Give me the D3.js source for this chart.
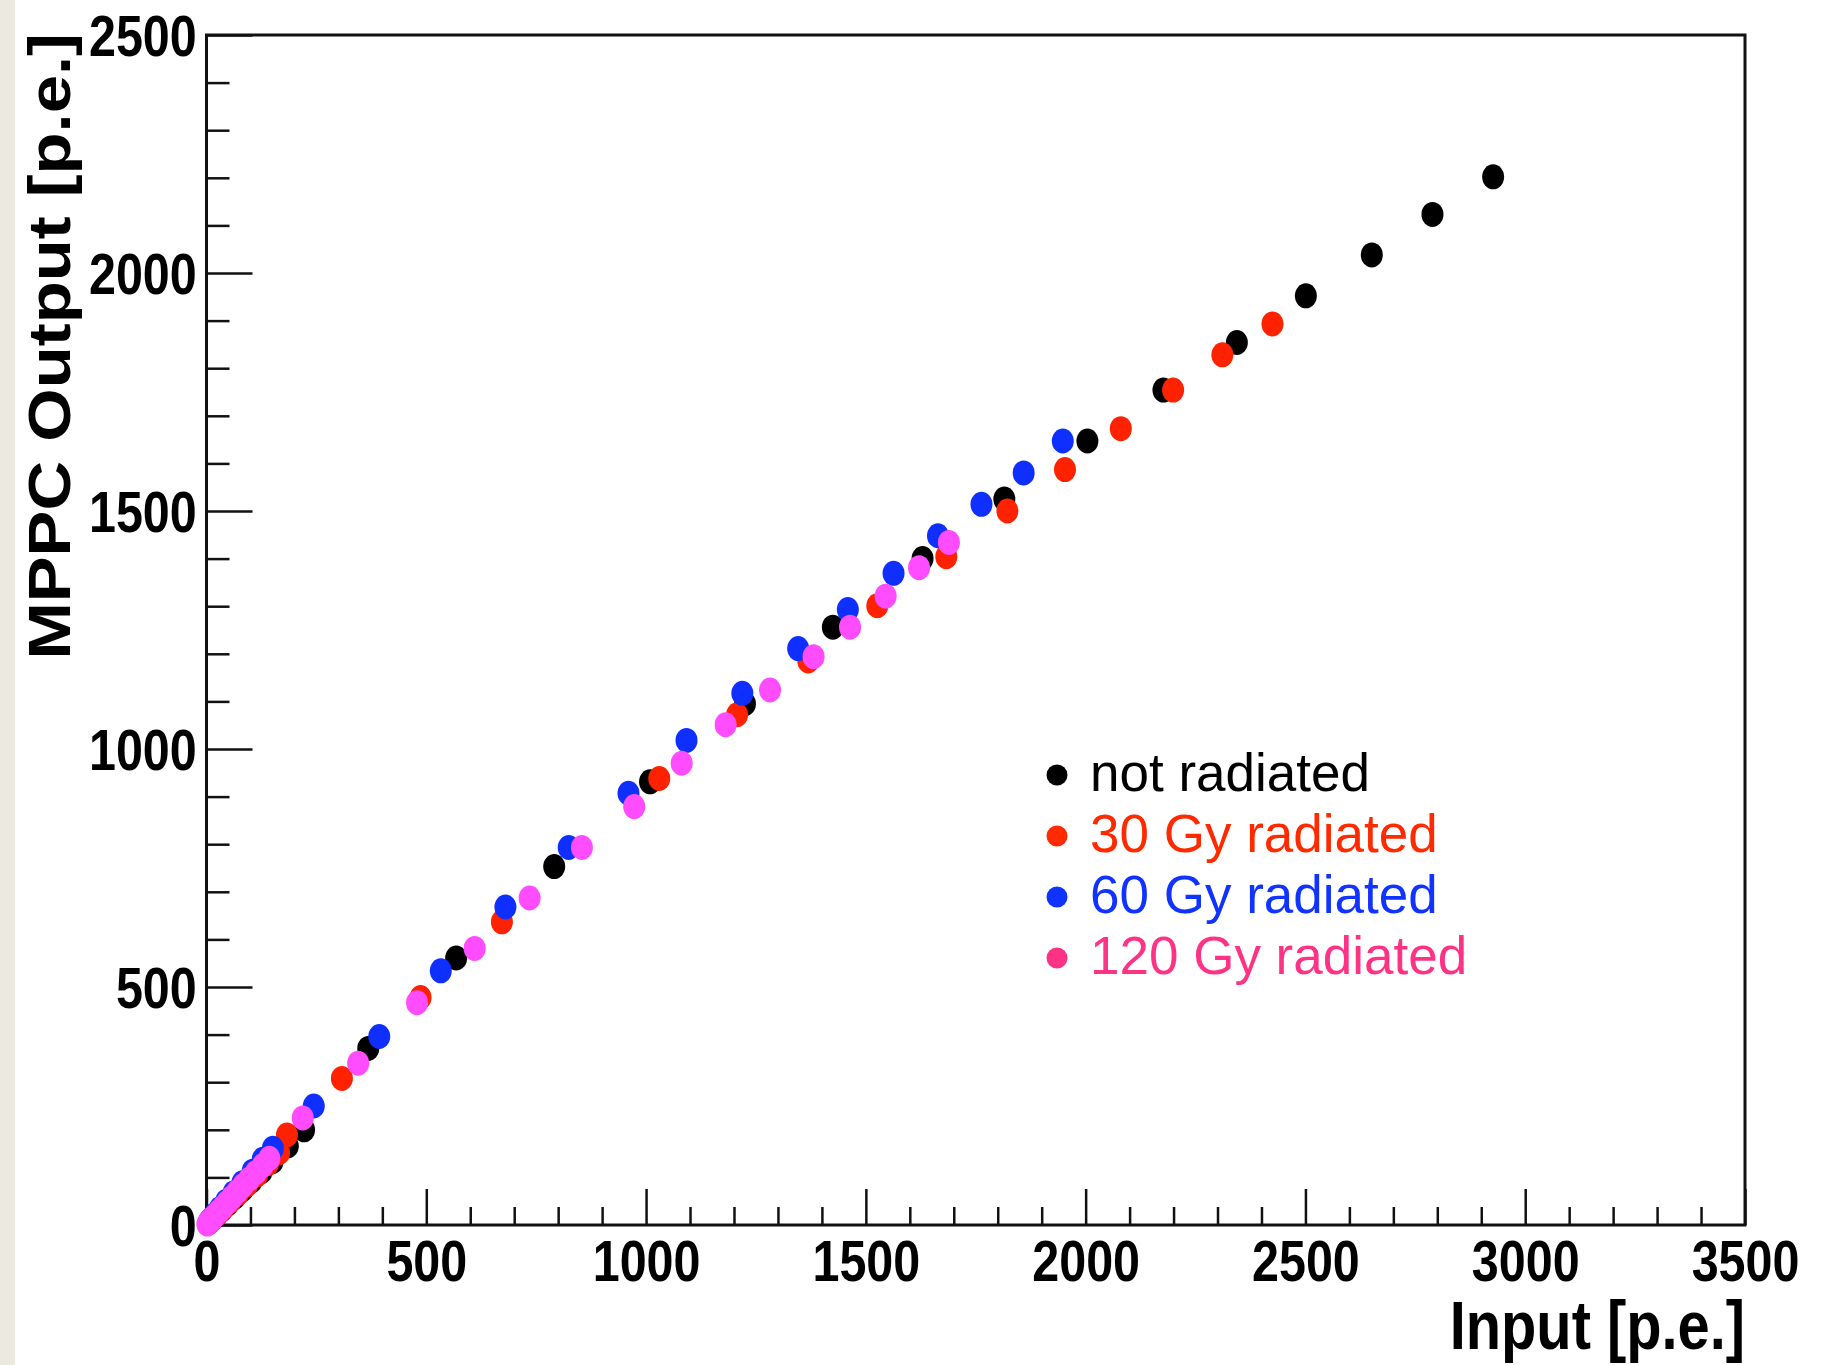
<!DOCTYPE html>
<html>
<head>
<meta charset="utf-8">
<script src="https://cdn.jsdelivr.net/npm/d3@7"></script>
<style>
  body { margin: 0; background: #fff; }
  svg { display: block; }
</style>
</head>
<body>
<div id="chart"></div>
<script>
// MPPC output vs light input, four irradiation doses.  [input p.e., output p.e.]
const notRadiated = [
  [5,5],[12,11],[22,20],[34,31],[48,44],[64,58],[82,74],[102,92],[125,112],[150,133],
  [185,166],[222,200],[368,371],[568,561],[791,753],[1009,931],[1225,1095],[1425,1256],
  [1629,1400],[1815,1525],[2004,1647],[2177,1754],[2344,1854],[2501,1952],[2651,2038],
  [2789,2123],[2927,2202]
];
const gy30 = [
  [6,5],[14,13],[25,23],[38,35],[54,50],[72,66],[92,84],[115,105],[140,129],[165,152],
  [183,189],[308,308],[487,478],[672,637],[1030,938],[1207,1072],[1369,1185],[1526,1301],
  [1683,1404],[1822,1500],[1953,1587],[2080,1673],[2199,1754],[2311,1828],[2425,1893]
];
const gy60 = [
  [8,10],[18,21],[30,34],[45,50],[62,68],[82,89],[105,113],[128,138],[151,161],[244,250],
  [393,396],[533,534],[680,668],[824,793],[960,907],[1092,1018],[1219,1117],[1346,1211],
  [1459,1293],[1563,1369],[1664,1448],[1763,1514],[1859,1580],[1948,1647]
];
const gy120 = [
  [2,2],[7,7],[13,13],[20,20],[28,28],[37,37],[47,47],[58,58],[70,70],[83,83],[97,96],
  [112,110],[128,125],[143,140],[219,225],[345,340],[479,467],[610,581],[735,687],
  [854,793],[973,879],[1081,970],[1181,1051],[1282,1124],[1381,1194],[1464,1256],
  [1545,1321],[1621,1381],[1689,1434]
];

const seriesList = [notRadiated, gy30, gy60, gy120];
const markerColors = ["#000000", "#ff2200", "#0f2fff", "#ff4cff"];
const legendLabels = ["not radiated", "30 Gy radiated", "60 Gy radiated", "120 Gy radiated"];
const legendColors = ["#000000", "#ff2a00", "#1133ff", "#ff3385"];

const xMajorTicks = [0, 500, 1000, 1500, 2000, 2500, 3000, 3500];
const yMajorTicks = [0, 500, 1000, 1500, 2000, 2500];
const xTitle = "Input [p.e.]";
const yTitle = "MPPC Output [p.e.]";

const W = 1829, H = 1365;
const frame = {left: 206.5, right: 1745, top: 35, bottom: 1225};
const squeeze = 0.85;   // ROOT text looks horizontally condensed
const font = "'Liberation Sans', Arial, Helvetica, sans-serif";

const svg = d3.select("#chart").append("svg")
  .attr("width", W)
  .attr("height", H);

svg.append("rect").attr("width", W).attr("height", H).attr("fill", "#fff");
// beige strip at the left edge
svg.append("rect").attr("x", 0).attr("y", 0).attr("width", 15).attr("height", H).attr("fill", "#ebe9e0");

// Scales
const x = d3.scaleLinear().domain([0, 3500]).range([frame.left, frame.right]);
const y = d3.scaleLinear().domain([0, 2500]).range([frame.bottom, frame.top]);

// Axes: major + minor ticks pointing inward
const minorX = d3.range(100, 3500, 100).filter(v => v % 500 !== 0);
const minorY = d3.range(100, 2500, 100).filter(v => v % 500 !== 0);

const xAxisG = svg.append("g").attr("transform", "translate(0," + frame.bottom + ")");
xAxisG.append("g").call(d3.axisBottom(x).tickValues(minorX).tickSize(-18).tickFormat(""));
xAxisG.append("g").call(d3.axisBottom(x).tickValues(xMajorTicks).tickSize(-36).tickPadding(16).tickFormat(d3.format("d")));

const yAxisG = svg.append("g").attr("transform", "translate(" + frame.left + ",0)");
yAxisG.append("g").call(d3.axisLeft(y).tickValues(minorY).tickSize(-23).tickFormat(""));
yAxisG.append("g").call(d3.axisLeft(y).tickValues(yMajorTicks).tickSize(-46).tickPadding(11.5).tickFormat(d3.format("d")));

svg.selectAll(".domain").remove();
svg.selectAll(".tick line").attr("stroke", "#111").attr("stroke-width", 2.5);
svg.selectAll(".tick text")
  .attr("font-family", font)
  .attr("font-weight", "bold")
  .attr("font-size", 57)
  .attr("fill", "#000")
  .attr("transform", "scale(" + squeeze + ",1)");
yAxisG.selectAll(".tick text").attr("dy", "0.36em");

// Frame
svg.append("rect")
  .attr("x", frame.left).attr("y", frame.top)
  .attr("width", frame.right - frame.left)
  .attr("height", frame.bottom - frame.top)
  .attr("fill", "none")
  .attr("stroke", "#111")
  .attr("stroke-width", 3);

// Data points
seriesList.forEach((data, i) => {
  svg.append("g").selectAll("ellipse")
    .data(data)
    .enter().append("ellipse")
    .attr("cx", d => x(d[0]))
    .attr("cy", d => y(d[1]))
    .attr("rx", 11)
    .attr("ry", 12.5)
    .attr("fill", markerColors[i]);
});

// Axis titles
svg.append("text")
  .attr("transform", "translate(" + frame.right + ",1349) scale(" + squeeze + ",1)")
  .attr("text-anchor", "end")
  .attr("font-family", font)
  .attr("font-weight", "bold")
  .attr("font-size", 68)
  .text(xTitle);

svg.append("text")
  .attr("transform", "translate(70,33) scale(1,1.176) rotate(-90)")
  .attr("text-anchor", "end")
  .attr("font-family", font)
  .attr("font-weight", "bold")
  .attr("font-size", 58.5)
  .text(yTitle);

// Legend
const legend = svg.append("g").attr("transform", "translate(1057,775)");
legendLabels.forEach((label, i) => {
  const row = legend.append("g").attr("transform", "translate(0," + (i * 61) + ")");
  row.append("circle").attr("r", 10.5).attr("fill", legendColors[i]);
  row.append("text")
    .attr("x", 33)
    .attr("y", 15.5)
    .attr("font-family", font)
    .attr("font-size", 53)
    .attr("fill", legendColors[i])
    .text(label);
});
</script>
</body>
</html>
